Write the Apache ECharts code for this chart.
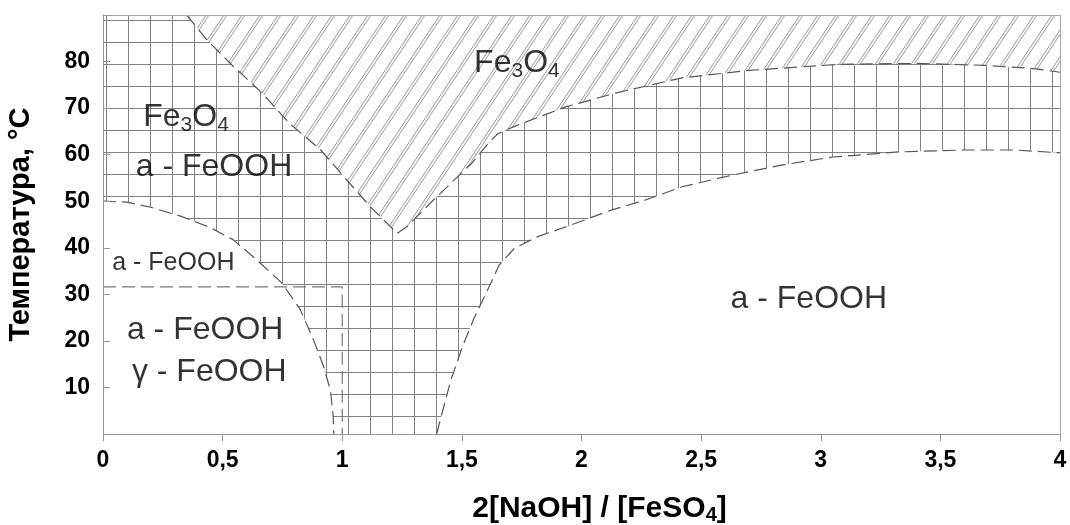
<!DOCTYPE html>
<html><head><meta charset="utf-8">
<script src="https://cdn.jsdelivr.net/npm/echarts@6/dist/echarts.min.js"></script>
<style>html,body{margin:0;padding:0;background:#fff}#c{width:1070px;height:525px}</style>
</head><body><div id="c"></div>
<script>
// ---- data ----
const xTickLabels = ['0', '0,5', '1', '1,5', '2', '2,5', '3', '3,5', '4'];
const yTickLabels = ['', '10', '20', '30', '40', '50', '60', '70', '80', ''];

// boundary of the low-temperature a/γ-FeOOH region
const leftCurve = [[0, 50], [0.1, 49.8], [0.2, 48.7], [0.33, 46.7], [0.45, 44.3], [0.545, 41.7],
  [0.643, 37.4], [0.748, 32.4], [0.825, 26.7], [0.88, 20.2], [0.922, 14.5], [0.95, 9.5],
  [0.962, 4], [0.965, 0]];

// lower boundary of the pure Fe3O4 (hatched) region
const hatchBoundary = [[0.35, 90], [0.43, 84.9], [0.54, 79.2], [0.66, 73.5], [0.78, 66.7],
  [0.91, 61], [1.02, 54.5], [1.118, 48.8], [1.23, 43.1], [1.27, 44.5], [1.38, 50.2],
  [1.54, 58.1], [1.61, 62.4], [1.65, 64.5], [1.73, 66.3], [1.93, 70.2], [2.14, 73.2],
  [2.42, 76.5], [2.7, 78.1], [3.075, 79.4], [3.4, 79.6], [3.68, 79.2], [3.89, 78.5], [4, 77.7]];

// upper boundary of the right a-FeOOH region
const lowerRight = [[1.395, 0], [1.41, 3.1], [1.454, 11.6], [1.503, 18.8], [1.551, 24.9],
  [1.607, 30.9], [1.656, 36.3], [1.72, 39.9], [1.817, 42.4], [1.957, 44.9], [2.124, 48.1],
  [2.264, 50.2], [2.42, 53.1], [2.63, 55.6], [2.84, 57.8], [3.05, 59.5], [3.33, 60.6],
  [3.6, 61], [3.81, 61], [4, 60.4]];

// a-FeOOH / a+γ-FeOOH limit
const gammaLimit = [[0, 31.6], [1, 31.6], [1, 0]];

// whole diagram span (mixed Fe3O4 + a-FeOOH background)
const fullSpan = [[0, 0], [4, 0]];

// phase labels: [x, y, text]
const bigLabels = [
  [1.73, 79.6, 'Fe{s|3}O{s|4}'],
  [0.347, 68.0, 'Fe{s|3}O{s|4}'],
  [0.464, 57.3, 'a - FeOOH'],
  [0.427, 22.2, 'a - FeOOH'],
  [0.444, 13.2, 'γ - FeOOH'],
  [2.95, 29.0, 'a - FeOOH']
];
const smallLabels = [[0.294, 36.7, 'a - FeOOH']];

// ---- patterns ----
function crossPattern() {
  const c = document.createElement('canvas');
  c.width = 22; c.height = 22;
  const g = c.getContext('2d');
  g.fillStyle = '#fff'; g.fillRect(0, 0, 22, 22);
  g.strokeStyle = '#808080'; g.lineWidth = 1;
  g.beginPath();
  g.moveTo(18.5, 0); g.lineTo(18.5, 22);
  g.moveTo(0, 20.5); g.lineTo(22, 20.5);
  g.stroke();
  return c;
}
function hatchPattern() {
  const w = 18, h = 27;
  const c = document.createElement('canvas');
  c.width = w; c.height = h;
  const g = c.getContext('2d');
  g.fillStyle = '#fff'; g.fillRect(0, 0, w, h);
  g.strokeStyle = '#8c8c8c'; g.lineWidth = 0.9;
  g.beginPath();
  [-w, 0, w].forEach(o => {
    [0, 3].forEach(d => {
      g.moveTo(o + d, h); g.lineTo(o + d + w, 0);
    });
  });
  g.stroke();
  return c;
}

const FONT = 'Liberation Sans, Arial, sans-serif';
const dash = { color: '#555', width: 1.2, type: [13, 6] };

const chart = echarts.init(document.getElementById('c'), null, { renderer: 'canvas' });
chart.setOption({
  animation: false,
  backgroundColor: '#fff',
  grid: { left: 103, right: 10, top: 15, bottom: 91, containLabel: false, outerBoundsMode: 'none' },
  xAxis: [{
    type: 'value', min: 0, max: 4, interval: 0.5, z: 10,
    axisLine: { show: true, onZero: false, lineStyle: { color: '#999', width: 1 } },
    axisTick: { show: true, inside: false, length: 7, lineStyle: { color: '#999' } },
    axisLabel: { margin: 15, fontFamily: FONT, fontSize: 23, fontWeight: 'bold', color: '#000',
      formatter: v => xTickLabels[Math.round(v / 0.5)] },
    splitLine: { show: false },
    name: '{b|2[NaOH] / [FeSO}{t|4}{b|]}', nameLocation: 'middle', nameGap: 58,
    nameTextStyle: { padding: [0, 0, 0, 36], rich: {
      b: { fontFamily: FONT, fontSize: 30, fontWeight: 'bold', color: '#000', lineHeight: 33 },
      t: { fontFamily: FONT, fontSize: 20, fontWeight: 'bold', color: '#000', lineHeight: 20, padding: [13, 0, 0, 0] }
    } }
  }, {
    type: 'value', min: 0, max: 4, position: 'top', z: 10,
    axisLine: { show: true, onZero: false, lineStyle: { color: '#aaa' } },
    axisTick: { show: false }, axisLabel: { show: false }, splitLine: { show: false }
  }],
  yAxis: [{
    type: 'value', min: 0, max: 90, interval: 10, z: 10,
    axisLine: { show: true, onZero: false, lineStyle: { color: '#999', width: 1 } },
    axisTick: { show: true, inside: true, length: 7, lineStyle: { color: '#999' } },
    axisLabel: { margin: 13, fontFamily: FONT, fontSize: 23, fontWeight: 'bold', color: '#000',
      formatter: v => yTickLabels[Math.round(v / 10)] },
    splitLine: { show: false },
    name: 'Температура, °C', nameLocation: 'middle', nameRotate: 90, nameGap: 68,
    nameTextStyle: { fontFamily: FONT, fontSize: 29, fontWeight: 'bold', color: '#000' }
  }, {
    type: 'value', min: 0, max: 90, position: 'right', z: 10,
    axisLine: { show: true, onZero: false, lineStyle: { color: '#aaa' } },
    axisTick: { show: false }, axisLabel: { show: false }, splitLine: { show: false }
  }],
  series: [
    { type: 'line', data: fullSpan, symbol: 'none', silent: true, z: 1,
      lineStyle: { width: 0 },
      areaStyle: { origin: 'end', opacity: 1, color: { image: crossPattern(), repeat: 'repeat' } } },
    { type: 'line', data: leftCurve, symbol: 'none', silent: true, z: 2,
      lineStyle: { width: 0 }, areaStyle: { origin: 'start', opacity: 1, color: '#fff' } },
    { type: 'line', data: lowerRight, symbol: 'none', silent: true, z: 2,
      lineStyle: { width: 0 }, areaStyle: { origin: 'start', opacity: 1, color: '#fff' } },
    { type: 'line', data: hatchBoundary, symbol: 'none', silent: true, z: 3,
      lineStyle: { width: 0 },
      areaStyle: { origin: 'end', opacity: 1, color: { image: hatchPattern(), repeat: 'repeat' } } },
    { type: 'line', data: leftCurve, symbol: 'none', silent: true, z: 4, lineStyle: dash },
    { type: 'line', data: lowerRight, symbol: 'none', silent: true, z: 4, lineStyle: dash },
    { type: 'line', data: hatchBoundary, symbol: 'none', silent: true, z: 4, lineStyle: dash },
    { type: 'line', data: gammaLimit, symbol: 'none', silent: true, z: 4,
      lineStyle: { color: '#777', width: 1.2, type: [13, 6] } },
    { type: 'scatter', data: bigLabels, symbolSize: 1, silent: true, z: 5,
      itemStyle: { color: 'rgba(0,0,0,0)' },
      label: { show: true, position: 'inside', formatter: p => p.value[2],
        fontFamily: FONT, fontSize: 32, color: '#000', lineHeight: 36,
        rich: { s: { fontFamily: FONT, fontSize: 21, color: '#000', lineHeight: 21, padding: [15, 0, 0, 0] } } } },
    { type: 'scatter', data: smallLabels, symbolSize: 1, silent: true, z: 5,
      itemStyle: { color: 'rgba(0,0,0,0)' },
      label: { show: true, position: 'inside', formatter: p => p.value[2],
        fontFamily: FONT, fontSize: 25, color: '#000' } }
  ]
});
</script></body></html>
